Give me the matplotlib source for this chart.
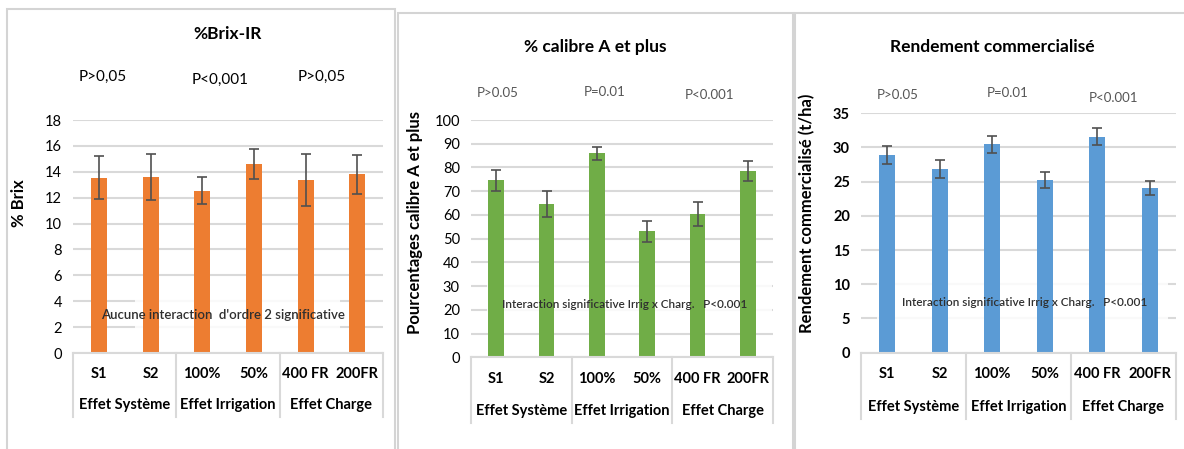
import matplotlib
matplotlib.use("Agg")
import matplotlib.pyplot as plt
from matplotlib.patches import Rectangle

plt.rcParams['font.family'] = ['Lato', 'DejaVu Sans']

categories = ["S1", "S2", "100%", "50%", "400 FR", "200FR"]
groups = ["Effet Système", "Effet Irrigation", "Effet Charge"]

brix = [13.55, 13.6, 12.55, 14.6, 13.35, 13.8]
brix_err = [1.65, 1.75, 1.05, 1.15, 2.0, 1.5]

calibre = [74.6, 64.5, 86.0, 53.1, 60.4, 78.6]
calibre_err = [4.4, 5.4, 2.7, 4.4, 5.1, 4.1]

rendement = [28.9, 26.9, 30.5, 25.2, 31.6, 24.1]
rendement_err = [1.3, 1.3, 1.25, 1.15, 1.2, 1.05]

brix_p = ["P>0,05", "P<0,001", "P>0,05"]
calibre_p = ["P>0.05", "P=0.01", "P<0.001"]
rendement_p = ["P>0.05", "P=0.01", "P<0.001"]

GRID = "#d9d9d9"
W, H = 1184, 449


def px(x, y):
    # pixel position (from top-left) to figure fraction
    return x / W, 1 - y / H


def draw_panel(fig, rect, values, errors, color, ymax, step, ylabel, ylabel_pos, bold_ticks):
    ax = fig.add_axes(rect)
    xs = list(range(len(values)))
    ax.bar(xs, values, width=0.31, color=color, zorder=2)
    ax.errorbar(xs, values, yerr=errors, fmt="none", ecolor="#505050",
                elinewidth=1.2, capsize=3.8, capthick=1.2, zorder=3)
    ax.set_xlim(-0.5, len(values) - 0.5)
    ax.set_ylim(0, ymax)
    ax.set_yticks(range(0, ymax + 1, step))
    ax.yaxis.grid(True, color=GRID, lw=1.5, zorder=0)
    ax.set_axisbelow(True)
    ax.tick_params(axis="y", length=0, pad=8, labelsize=10.5)
    if bold_ticks:
        for t in ax.get_yticklabels():
            t.set_fontweight("bold")
    ax.set_xticks([])
    for s in ["top", "right", "left"]:
        ax.spines[s].set_visible(False)
    ax.spines["bottom"].set_color(GRID)
    ax.spines["bottom"].set_linewidth(1.5)

    tr = ax.get_xaxis_transform()
    for i, c in enumerate(categories):
        ax.text(i, -0.09, c, transform=tr, ha="center", va="center",
                fontsize=10.5, fontweight="bold")
    for g, name in enumerate(groups):
        ax.text(2 * g + 0.5, -0.225, name, transform=tr, ha="center",
                va="center", fontsize=10.5, fontweight="bold")
    for xsep in [-0.5, 1.5, 3.5, 5.5]:
        ax.plot([xsep, xsep], [0, -0.275], transform=tr, color=GRID,
                lw=1.5, clip_on=False)

    ax.set_ylabel(ylabel, fontsize=12, fontweight="bold")
    ax.yaxis.set_label_coords(*ylabel_pos)
    return ax


def note_box(ax, fig, x0, y0, x1, y1):
    fx0, fy1 = px(x0, y0)
    fx1, fy0 = px(x1, y1)
    ax.add_patch(Rectangle((fx0, fy0), fx1 - fx0, fy1 - fy0,
                           transform=fig.transFigure, facecolor="white",
                           edgecolor="none", alpha=0.85, zorder=1.5))


fig = plt.figure(figsize=(W / 100, H / 100), dpi=100)
fig.patch.set_facecolor("white")

# panel frames
for x0, y0, x1 in [(7, 9, 395), (398, 13, 793), (795, 13, 1190)]:
    fx0, fy1 = px(x0, y0)
    fx1, _ = px(x1, 0)
    fig.patches.append(Rectangle((fx0, -0.02), fx1 - fx0, fy1 + 0.02,
                                 transform=fig.transFigure, fill=False,
                                 edgecolor="#d4d4d4", lw=1.5))

# %Brix
ax1 = draw_panel(fig, [0.0617, 0.2138, 0.2618, 0.5189], brix, brix_err,
                 "#ED7D31", 18, 2, "% Brix", (-0.148, 0.644), False)
fig.text(*px(228, 34), "%Brix-IR", ha="center", va="center",
         fontsize=12.5, fontweight="bold")
for (x, y), p in zip([(103, 77), (220, 80), (322, 77)], brix_p):
    fig.text(*px(x, y), p, ha="center", va="center", fontsize=11)
note_box(ax1, fig, 135, 292, 340, 342)
fig.text(*px(223, 315), "Aucune interaction  d'ordre 2 significative",
         ha="center", va="center", fontsize=9.5, fontweight="semibold",
         color="#2f2f2f", zorder=5)

# % calibre A et plus
ax2 = draw_panel(fig, [0.3978, 0.2042, 0.2551, 0.5285], calibre, calibre_err,
                 "#70AD47", 100, 10, "Pourcentages calibre A et plus",
                 (-0.16, 0.57), False)
fig.text(*px(595, 47), "% calibre A et plus", ha="center", va="center",
         fontsize=12.5, fontweight="bold")
for (x, y), p in zip([(498, 93), (605, 92), (709, 95)], calibre_p):
    fig.text(*px(x, y), p, ha="center", va="center", fontsize=9.5,
             color="#555555")
note_box(ax2, fig, 487, 278, 772, 315)
fig.text(*px(625, 305), "Interaction significative Irrig x Charg.   P<0.001",
         ha="center", va="center", fontsize=8.5, fontweight="semibold",
         color="#2f2f2f", zorder=5)

# Rendement commercialisé
ax3 = draw_panel(fig, [0.7272, 0.2145, 0.266, 0.5332], rendement,
                 rendement_err, "#5B9BD5", 35, 5,
                 "Rendement commercialisé (t/ha)", (-0.146, 0.584), True)
fig.text(*px(992, 47), "Rendement commercialisé", ha="center", va="center",
         fontsize=12.5, fontweight="bold")
for (x, y), p in zip([(898, 95), (1008, 93), (1113, 98)], rendement_p):
    fig.text(*px(x, y), p, ha="center", va="center", fontsize=9.5,
             color="#555555")
note_box(ax3, fig, 877, 277, 1168, 330)
fig.text(*px(1025, 303), "Interaction significative Irrig x Charg.   P<0.001",
         ha="center", va="center", fontsize=8.5, fontweight="semibold",
         color="#2f2f2f", zorder=5)

fig.savefig("out.png", dpi=100)
